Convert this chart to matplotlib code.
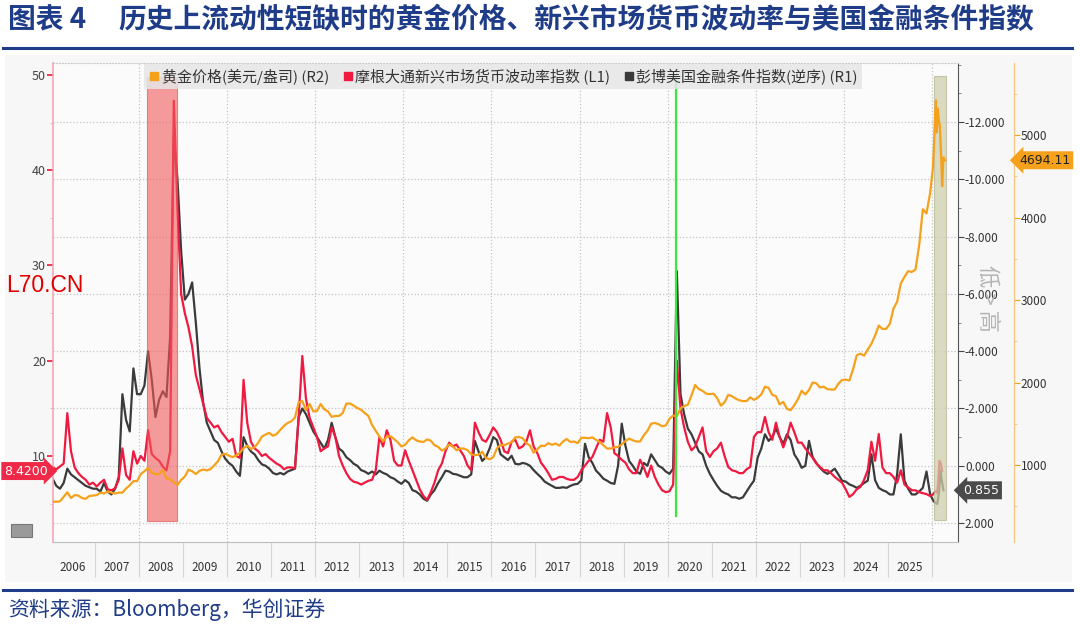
import numpy as np
import matplotlib
matplotlib.use("Agg")
import matplotlib.pyplot as plt
from matplotlib.lines import Line2D
from matplotlib.patches import Rectangle, FancyBboxPatch
from matplotlib.ticker import FixedLocator, FixedFormatter, FuncFormatter, MultipleLocator
from matplotlib.transforms import blended_transform_factory

plt.rcParams['font.family'] = ['Noto Sans CJK SC', 'DejaVu Sans']

# === Daten: Monatswerte Jan 2006 - Dez 2025 ===
gold = [
    555, 555, 560, 615, 670, 600, 635, 630, 600, 590, 625, 630,          # 2006
    635, 665, 655, 680, 665, 655, 665, 665, 715, 755, 805, 805,          # 2007
    890, 925, 965, 910, 890, 890, 940, 840, 830, 790, 760, 820,          # 2008
    860, 945, 925, 890, 930, 945, 935, 950, 995, 1045, 1125, 1135,       # 2009
    1115, 1095, 1115, 1150, 1205, 1235, 1195, 1215, 1270, 1345, 1370, 1390,
    1355, 1375, 1425, 1475, 1510, 1530, 1575, 1760, 1775, 1665, 1740, 1650,
    1655, 1740, 1675, 1650, 1585, 1595, 1595, 1630, 1745, 1745, 1720, 1690,
    1670, 1630, 1595, 1485, 1415, 1345, 1285, 1345, 1350, 1315, 1275, 1225,
    1245, 1300, 1335, 1300, 1285, 1280, 1310, 1295, 1240, 1220, 1175, 1200,
    1250, 1225, 1180, 1200, 1200, 1180, 1130, 1120, 1125, 1160, 1085, 1070,
    1095, 1200, 1245, 1240, 1260, 1275, 1335, 1340, 1325, 1265, 1235, 1150,
    1190, 1235, 1230, 1265, 1245, 1260, 1235, 1285, 1315, 1280, 1285, 1265,
    1330, 1330, 1325, 1335, 1305, 1280, 1240, 1200, 1200, 1215, 1220, 1250,
    1290, 1320, 1300, 1285, 1285, 1360, 1415, 1500, 1510, 1495, 1470, 1480,
    1560, 1600, 1590, 1685, 1715, 1730, 1845, 1970, 1920, 1900, 1865, 1860,
    1865, 1810, 1720, 1760, 1850, 1835, 1805, 1785, 1775, 1775, 1820, 1790,
    1815, 1855, 1950, 1935, 1850, 1835, 1735, 1765, 1680, 1665, 1725, 1800,
    1900, 1855, 1910, 2000, 1990, 1940, 1950, 1920, 1915, 1915, 1985, 2030,
    2035, 2025, 2160, 2330, 2350, 2325, 2400, 2470, 2570, 2690, 2650, 2650,
    2710, 2895, 2980, 3200, 3280, 3350, 3340, 3370, 3660, 4100, 4050, 4300,  # 2025
]
emfx = [
    8.8, 8.6, 8.9, 9.2, 14.5, 10.5, 8.8, 8.2, 7.8, 7.5, 7.0, 7.2,        # 2006
    6.8, 7.2, 7.5, 6.5, 6.4, 6.6, 7.5, 10.8, 8.0, 7.5, 10.5, 9.2,       # 2007
    10.0, 9.5, 12.7, 10.2, 9.8, 9.5, 8.9, 8.5, 10.5, 47.3, 36.0, 27.0,  # 2008
    25.0, 23.5, 21.5, 18.5, 17.0, 15.5, 14.0, 13.5, 13.0, 13.2, 12.5, 12.0,
    11.5, 11.8, 10.0, 9.8, 18.0, 13.5, 11.5, 10.8, 10.5, 10.0, 10.2, 9.8,
    9.5, 9.2, 9.0, 8.6, 8.8, 8.8, 8.7, 14.0, 20.5, 16.0, 14.0, 13.0,
    12.0, 10.5, 10.8, 11.0, 13.0, 12.0, 10.0, 9.0, 8.2, 7.6, 7.3, 7.2,
    7.0, 7.2, 7.4, 7.5, 8.5, 12.0, 11.0, 12.7, 11.7, 9.5, 9.0, 9.0,
    10.6, 9.5, 8.5, 7.5, 6.5, 5.8, 5.4, 6.2, 7.2, 8.5, 9.2, 10.5,
    11.4, 11.0, 11.2, 10.6, 10.0, 9.0, 8.5, 13.5, 12.5, 11.7, 11.5, 12.2,
    13.0, 12.5, 11.7, 10.5, 10.3, 11.5, 11.7, 10.8, 11.0, 11.5, 12.7, 11.0,
    10.3, 9.3, 8.8, 8.2, 7.5, 7.6, 7.8, 7.8, 7.6, 7.5, 7.5, 7.8,
    8.5, 9.0, 9.5, 9.9, 10.8, 11.7, 11.5, 14.5, 13.0, 10.3, 10.0, 9.6,
    9.3, 8.6, 8.2, 8.2, 9.6, 8.8, 7.8, 9.0, 7.8, 7.0, 6.4, 6.2,
    6.3, 7.0, 20.0, 15.0, 13.0, 11.5, 10.6, 11.0, 12.0, 13.0, 10.5, 9.9,
    10.5, 10.8, 11.4, 10.0, 8.85, 8.5, 8.4, 8.2, 8.2, 8.6, 8.85, 12.0,
    12.5, 12.5, 14.1, 12.5, 11.7, 13.5, 12.0, 10.9, 12.0, 13.5, 12.5, 11.4,
    11.4, 10.8, 10.3, 9.8, 9.2, 8.85, 8.5, 8.5, 8.2, 7.8, 7.5, 7.2,
    6.5, 5.7, 6.0, 6.5, 6.75, 7.5, 8.5, 11.5, 9.5, 12.3, 8.8, 8.2,
    8.2, 7.8, 7.2, 8.5, 7.0, 6.7, 6.4, 6.4, 6.2, 6.1, 6.0, 5.8,         # 2025
]
fci = [
    0.45, 0.7, 0.8, 0.6, 0.1, 0.3, 0.4, 0.5, 0.6, 0.7, 0.75, 0.8,       # 2006
    0.8, 0.9, 0.6, 0.9, 1.0, 0.8, 0.4, -2.5, -1.6, -1.2, -3.4, -2.5,    # 2007
    -2.5, -2.8, -4.0, -3.0, -1.7, -2.3, -2.6, -2.4, -4.5, -11.5, -10.0, -7.5,
    -5.8, -6.0, -6.4, -5.0, -3.4, -2.2, -1.5, -1.2, -0.9, -0.8, -0.5, -0.25,
    -0.1, 0.0, 0.2, 0.35, -1.0, -0.7, -0.5, -0.4, -0.2, -0.05, 0.0, 0.1,
    0.25, 0.3, 0.25, 0.3, 0.2, 0.15, 0.1, -1.7, -2.0, -1.8, -1.5, -1.2,
    -1.0, -0.8, -0.6, -0.9, -1.5, -1.0, -0.6, -0.5, -0.3, -0.2, -0.07, 0.0,
    0.15, 0.2, 0.28, 0.2, 0.3, 0.17, 0.25, 0.3, 0.4, 0.45, 0.55, 0.63,
    0.5, 0.6, 0.85, 0.9, 1.0, 1.15, 1.22, 1.0, 0.85, 0.6, 0.4, 0.17,
    0.2, 0.28, 0.3, 0.35, 0.4, 0.4, 0.3, -0.87, -0.5, -0.17, -0.3, -0.6,
    -1.0, -0.9, -0.4, -0.3, -0.2, -0.35, -0.07, -0.05, -0.1, -0.07, 0.0, 0.15,
    0.28, 0.4, 0.55, 0.63, 0.7, 0.77, 0.77, 0.75, 0.77, 0.7, 0.65, 0.63,
    0.5, -0.77, -0.3, -0.1, 0.17, 0.3, 0.45, 0.52, 0.6, 0.63, 0.0, -1.47,
    -0.7, -0.17, 0.0, 0.2, 0.28, -0.1, 0.0, -0.4, -0.2, 0.0, 0.07, 0.2,
    0.28, 0.1, -6.8, -2.5, -1.8, -1.3, -1.1, -0.8, -0.5, -0.4, 0.0, 0.28,
    0.5, 0.7, 0.87, 0.95, 1.0, 1.1, 1.1, 1.15, 1.1, 0.9, 0.7, 0.52,
    -0.28, -0.6, -1.1, -0.87, -1.0, -1.3, -1.0, -0.77, -1.1, -0.9, -0.4, -0.2,
    0.07, 0.0, -0.87, -0.3, -0.1, 0.07, 0.2, 0.28, 0.2, 0.1, 0.3, 0.52,
    0.55, 0.65, 0.7, 0.77, 0.7, 0.6, 0.52, -0.4, 0.5, 0.77, 0.85, 0.9,
    1.0, 1.0, 0.3, -1.1, 0.52, 0.8, 1.0, 1.0, 0.9, 0.77, 0.2, 1.0,      # 2025
]

# === 2026: letzte Wochen (Jahr als Dezimalzahl) ===
gold_tail_t = [2026.02, 2026.05, 2026.07, 2026.09, 2026.11, 2026.13, 2026.15, 2026.18, 2026.21, 2026.23, 2026.26, 2026.29]
gold_tail = [4600, 4950, 5250, 5420, 5030, 5320, 5200, 5100, 4700, 4380, 4730, 4694.11]
emfx_tail_t = [2026.03, 2026.08, 2026.12, 2026.15, 2026.17, 2026.20, 2026.23]
emfx_tail = [6.0, 6.3, 6.1, 8.0, 9.5, 9.2, 8.42]
fci_tail_t = [2026.03, 2026.08, 2026.12, 2026.16, 2026.19, 2026.22, 2026.26]
fci_tail = [1.22, 1.3, 1.33, 0.9, 0.17, 0.5, 0.855]

years = list(range(2006, 2026))
crisis_span = (2008.18, 2008.86)
recent_span = (2026.05, 2026.32)
covid_date = 2020.2
last_emfx, last_gold, last_fci = 8.42, 4694.11, 0.855

t_month = 2006 + (np.arange(len(gold)) + 0.5) / 12
gold_t = np.concatenate([t_month, gold_tail_t]); gold_v = gold + gold_tail
emfx_t = np.concatenate([t_month, emfx_tail_t]); emfx_v = emfx + emfx_tail
fci_t = np.concatenate([t_month, fci_tail_t]); fci_v = fci + fci_tail

C_GOLD, C_RED, C_BLK = '#f5a11c', '#f0193f', '#3b3b3b'
NAVY = '#1f3c88'

# === Figur ===
fig = plt.figure(figsize=(10.8, 6.32), dpi=100)
fig.patch.set_facecolor('white')
fig.patches.append(Rectangle((5 / 1080, 1 - 582 / 632), 1067 / 1080, 527 / 632,
                             transform=fig.transFigure, facecolor='#f7f7f7', edgecolor='none', zorder=-5))

rect = [53 / 1080, 1 - 542 / 632, 905 / 1080, 479 / 632]
host = fig.add_axes(rect)          # R1: Finanzbedingungen (invertiert)
ax_l = host.twinx()                # L1: EM FX Vol
ax_g = host.twinx()                # R2: Gold

host.set_facecolor('#fbfbfb')
host.yaxis.tick_right()
ax_l.yaxis.tick_left()
ax_l.yaxis.set_label_position('left')

# Linien
host.plot(fci_t, fci_v, color=C_BLK, lw=1.6)
ax_l.plot(emfx_t, emfx_v, color=C_RED, lw=1.6)
ax_g.plot(gold_t, gold_v, color=C_GOLD, lw=1.6)

# Schattierungen und Markierung (in L1-Koordinaten)
ax_g.add_patch(Rectangle((crisis_span[0], 3.2), crisis_span[1] - crisis_span[0], 46.6,
                         transform=ax_l.transData, facecolor='#f25a5a', edgecolor='#e04848',
                         alpha=0.6, lw=0.8))
ax_g.add_patch(Rectangle((recent_span[0], 3.3), recent_span[1] - recent_span[0], 46.6,
                         transform=ax_l.transData, facecolor='#cfcfae', edgecolor='#b8b894',
                         alpha=0.75, lw=0.8))
ax_g.plot([covid_date, covid_date], [3.7, 49.9], transform=ax_l.transData, color='#3ee63e', lw=1.6)

# Achsengrenzen
host.set_xlim(2006.05, 2026.59)
host.set_ylim(2.66, -14.06)
ax_l.set_ylim(0.97, 51.26)
ax_g.set_ylim(67, 5873)

# Spines
for a in (host, ax_l, ax_g):
    for s in a.spines.values():
        s.set_visible(False)
host.spines['bottom'].set_visible(True)
host.spines['bottom'].set_color('#bdbdbd')
host.spines['top'].set_visible(True)
host.spines['top'].set_color('#cccccc')
host.spines['top'].set_linestyle(':')
host.spines['right'].set_visible(True)
host.spines['right'].set_color('#555555')
ax_l.spines['left'].set_visible(True)
ax_l.spines['left'].set_color('#f3a6b5')
ax_l.spines['left'].set_linewidth(1.2)
ax_g.spines['right'].set_visible(True)
ax_g.spines['right'].set_position(('axes', 1.0619))
ax_g.spines['right'].set_color('#f8c27a')

# R1 Ticks
host.set_yticks(np.arange(-12, 3, 2))
host.yaxis.set_minor_locator(MultipleLocator(1))
host.yaxis.set_major_formatter(FuncFormatter(lambda v, _: f"{v + 0.0:.3f}"))
host.tick_params(axis='y', which='major', length=4, color='#444', labelsize=8.5,
                 labelcolor='#333', pad=1)
host.tick_params(axis='y', which='minor', length=2.5, color='#777')
host.yaxis.grid(True, which='major', ls=':', color='#c4c4c4', lw=0.9)
for yr in years[::2][1:] + [2026]:
    host.axvline(yr, ls=':', color='#c4c4c4', lw=0.9, zorder=0)

# L1 Ticks
ax_l.set_yticks(np.arange(10, 51, 10))
ax_l.yaxis.set_minor_locator(MultipleLocator(5))
ax_l.tick_params(axis='y', which='major', length=4, color='#f0193f', labelsize=9,
                 labelcolor='#444', pad=1, width=1.2)
ax_l.tick_params(axis='y', which='minor', length=2.5, color='#f3a6b5')

# R2 Ticks
ax_g.set_yticks(np.arange(1000, 5001, 1000))
ax_g.yaxis.set_minor_locator(MultipleLocator(500))
ax_g.tick_params(axis='y', which='major', length=4, color='#f5a11c', labelsize=8.5,
                 labelcolor='#333', pad=1)
ax_g.tick_params(axis='y', which='minor', length=2.5, color='#f8c27a')

# X-Achse: Jahrestrenner + Jahreszahlen in der Mitte
host.xaxis.set_major_locator(FixedLocator([y + 1 for y in years]))
host.xaxis.set_major_formatter(FixedFormatter([''] * len(years)))
host.xaxis.set_minor_locator(FixedLocator([y + 0.5 for y in years]))
host.xaxis.set_minor_formatter(FixedFormatter([str(y) for y in years]))
host.tick_params(axis='x', which='major', length=25, color='#d4d4d4', width=0.8)
host.tick_params(axis='x', which='minor', length=0, pad=14, labelsize=8.5, labelcolor='#333')

# Legende
handles = [Line2D([], [], marker='s', ls='', color=c, markersize=6) for c in (C_GOLD, C_RED, C_BLK)]
labels = ['黄金价格(美元/盎司) (R2)', '摩根大通新兴市场货币波动率指数 (L1)', '彭博美国金融条件指数(逆序) (R1)']
leg = ax_g.legend(handles, labels, loc='upper left', bbox_to_anchor=(0.101, 0.998), ncol=3,
                  fontsize=10.8, handlelength=0.7, handletextpad=0.15, columnspacing=0.9,
                  borderpad=0.3, borderaxespad=0, fancybox=False, framealpha=0.85)
leg.get_frame().set_facecolor('#e6e6e6')
leg.get_frame().set_edgecolor('none')
for txt in leg.get_texts():
    txt.set_color('#333333')

# Werte-Marken an den Achsen
tr_l = blended_transform_factory(ax_l.transAxes, ax_l.transData)
ax_l.text(-0.006, last_emfx, '8.4200', transform=tr_l, ha='right', va='center', fontsize=9,
          color='white', family='DejaVu Sans',
          bbox=dict(boxstyle='rarrow,pad=0.2', facecolor='#ee2a48', edgecolor='none'), clip_on=False)
tr_r1 = blended_transform_factory(host.transAxes, host.transData)
host.text(1.006, last_fci, '0.855', transform=tr_r1, ha='left', va='center', fontsize=9,
          color='white', family='DejaVu Sans',
          bbox=dict(boxstyle='larrow,pad=0.2', facecolor='#4a4a4a', edgecolor='none'), clip_on=False)
tr_g = blended_transform_factory(ax_g.transAxes, ax_g.transData)
ax_g.text(1.068, last_gold, f'{last_gold:.2f}', transform=tr_g, ha='left', va='center', fontsize=9,
          color='#222', family='DejaVu Sans',
          bbox=dict(boxstyle='larrow,pad=0.2', facecolor='#f5a11c', edgecolor='none'), clip_on=False)

# Hinweis "低 > 高" zwischen den rechten Achsen
fig.text(988 / 1080, 1 - 298 / 632, '低 > 高', rotation=-90, ha='center', va='center',
         fontsize=16, color='#b5b5b5')

# kleiner Button unten links
fig.patches.append(FancyBboxPatch((11 / 1080, 1 - 537 / 632), 21 / 1080, 13 / 632,
                                  boxstyle='square,pad=0', transform=fig.transFigure,
                                  facecolor='#9a9a9a', edgecolor='#777777', lw=0.8))

# Wasserzeichen
fig.text(6 / 1080, 1 - 286 / 632, 'L70.CN', ha='left', va='center', fontsize=16.5,
         color='#e00000', family='Liberation Sans')

# Titel, Linien, Quelle
fig.text(8 / 1080, 1 - 20 / 632, '图表 4', ha='left', va='center', fontsize=20,
         fontweight='bold', color=NAVY)
fig.text(118 / 1080, 1 - 20 / 632, '历史上流动性短缺时的黄金价格、新兴市场货币波动率与美国金融条件指数',
         ha='left', va='center', fontsize=20, fontweight='bold', color=NAVY)
fig.add_artist(Line2D([3 / 1080, 1072 / 1080], [1 - 48 / 632] * 2, color=NAVY, lw=2.2))
fig.add_artist(Line2D([3 / 1080, 1072 / 1080], [1 - 590 / 632] * 2, color=NAVY, lw=2.2))
fig.text(8 / 1080, 1 - 610 / 632, '资料来源：Bloomberg，华创证券', ha='left', va='center',
         fontsize=15, color=NAVY, style='italic')

fig.savefig('out.png', dpi=100, facecolor='white')
